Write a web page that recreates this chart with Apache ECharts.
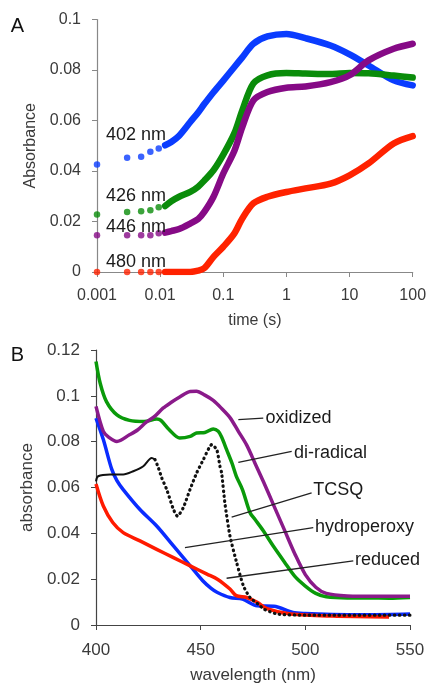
<!DOCTYPE html>
<html><head><meta charset="utf-8">
<script src="https://cdn.jsdelivr.net/npm/echarts@6/dist/echarts.min.js"></script>
<style>html,body{margin:0;padding:0;background:#fff}#c{width:430px;height:685px}</style>
</head><body><div id="c"></div>
<script>
// ---------- Panel A: kinetics (log time axis) ----------
const timeSparse = [0.001, 0.003, 0.005, 0.007, 0.0095];
const a402Sparse = [0.0426, 0.0452, 0.0456, 0.0476, 0.0489];
const a426Sparse = [0.0228, 0.0238, 0.0241, 0.0245, 0.0256];
const a446Sparse = [0.0146, 0.0146, 0.0146, 0.0146, 0.0153];
const a480Sparse = [0, 0, 0, 0, 0];
const timeDense = [0.012, 0.015, 0.02, 0.03, 0.04, 0.05, 0.07, 0.1, 0.15, 0.2, 0.3, 0.5, 1, 2, 5, 10, 20, 50, 100];
const a402 = [0.0502, 0.0515, 0.054, 0.0594, 0.0632, 0.0665, 0.0712, 0.0758, 0.0812, 0.085, 0.0904, 0.0933, 0.0943, 0.0926, 0.0897, 0.0862, 0.0818, 0.0759, 0.0739];
const a426 = [0.0261, 0.028, 0.0298, 0.0317, 0.0338, 0.0362, 0.0403, 0.0465, 0.055, 0.064, 0.0747, 0.0779, 0.0788, 0.0786, 0.0784, 0.0788, 0.0787, 0.0778, 0.077];
const a446 = [0.0156, 0.0162, 0.017, 0.0192, 0.021, 0.0238, 0.0298, 0.039, 0.048, 0.0574, 0.068, 0.0713, 0.073, 0.0735, 0.0752, 0.0779, 0.0838, 0.0884, 0.0904];
const a480 = [0, 0, 0, 0, 0.0005, 0.0015, 0.006, 0.01, 0.0153, 0.0212, 0.0272, 0.0298, 0.0317, 0.0331, 0.035, 0.0383, 0.043, 0.0509, 0.0538];
const xTicksA = ['0.001', '0.01', '0.1', '1', '10', '100'];
const yTicksA = ['0', '0.02', '0.04', '0.06', '0.08', '0.1'];
const seriesNamesA = ['402 nm', '426 nm', '446 nm', '480 nm'];
// label anchor values (time, absorbance)
const labelTimeA = [0.00139, 0.00139, 0.00139, 0.00139];
const labelValA = [0.0542, 0.0302, 0.0178, 0.0038];

// ---------- Panel B: spectra ----------
const wlDiradical = [400, 402, 405, 410, 416, 423, 429, 431, 435, 440, 445, 448, 452, 456, 458.4, 460, 462.4, 465, 467, 470, 473.6, 476, 480, 485, 490, 495, 500, 505, 510, 520, 530, 540, 550];
const diradical = [0.115, 0.1055, 0.0975, 0.0917, 0.0893, 0.0888, 0.0899, 0.0893, 0.0852, 0.0816, 0.0823, 0.0838, 0.084, 0.0855, 0.0845, 0.082, 0.0765, 0.0705, 0.065, 0.059, 0.049, 0.046, 0.041, 0.034, 0.0275, 0.0212, 0.017, 0.0138, 0.0123, 0.0118, 0.0118, 0.0117, 0.012];
const wlOxidized = [400, 403.5, 406, 410, 416, 420, 424, 428, 432, 436, 440, 445, 448, 452, 456, 460, 464, 468, 472, 476, 480, 485, 490, 495, 500, 505, 510, 520, 535, 550];
const oxidized = [0.0954, 0.0845, 0.082, 0.0801, 0.083, 0.0852, 0.0885, 0.091, 0.0946, 0.0972, 0.0995, 0.1019, 0.102, 0.1003, 0.098, 0.0945, 0.0905, 0.0845, 0.0785, 0.0705, 0.0625, 0.052, 0.0415, 0.031, 0.022, 0.0165, 0.0138, 0.0127, 0.0125, 0.0125];
const wlHydroperoxy = [400, 403.5, 407.5, 410, 413, 421, 429, 437, 445, 451, 455, 458, 464, 470, 477, 485, 494, 500, 513, 530, 550];
const hydroperoxy = [0.0903, 0.0809, 0.068, 0.063, 0.0591, 0.0504, 0.0432, 0.0345, 0.0258, 0.0193, 0.016, 0.0142, 0.012, 0.0113, 0.0084, 0.0082, 0.0055, 0.005, 0.0046, 0.0045, 0.0048];
const wlReduced = [400, 403.5, 408, 413, 421, 429, 437, 445, 453, 458, 464, 467, 472, 477, 482, 493, 513, 540];
const reduced = [0.0615, 0.0519, 0.0447, 0.0403, 0.0367, 0.033, 0.0294, 0.0258, 0.0222, 0.02, 0.0157, 0.0128, 0.012, 0.0099, 0.007, 0.0048, 0.0039, 0.0035];
const wlTcsqSolid = [400, 401, 406.7, 413, 417.8, 422.6, 426.6, 428.2];
const tcsqSolid = [0.0627, 0.0649, 0.0657, 0.0657, 0.0671, 0.0693, 0.0729, 0.0722];
const wlTcsqDotted = [428.2, 429.8, 431.4, 433.8, 437, 438.9, 441.7, 444.9, 448.1, 451.3, 455.3, 457.7, 459.2, 460, 461.6, 464, 467.2, 470.4, 473.6, 478.4, 480, 486.5, 500, 550];
const tcsqDotted = [0.0722, 0.0686, 0.0642, 0.0591, 0.0504, 0.0475, 0.0512, 0.0591, 0.0664, 0.0722, 0.0787, 0.0765, 0.0693, 0.0664, 0.053, 0.0388, 0.0272, 0.0171, 0.012, 0.0084, 0.007, 0.0048, 0.0043, 0.0043];
const xTicksB = ['400', '450', '500', '550'];
const yTicksB = ['0', '0.02', '0.04', '0.06', '0.08', '0.1', '0.12'];
const labelsB = ['oxidized', 'di-radical', 'TCSQ', 'hydroperoxy', 'reduced'];
// leader line start/end and text anchor in data coords (wavelength, absorbance)
const leaderStartWl = [468.0, 468.0, 464.8, 442.5, 462.4];
const leaderStartVal = [0.0896, 0.0710, 0.0471, 0.0338, 0.0204];
const leaderEndWl = [479.9, 493.5, 503.0, 503.8, 522.9];
const leaderEndVal = [0.0903, 0.0758, 0.0577, 0.0425, 0.0280];
const textWl = [481.0, 494.6, 503.8, 504.6, 523.7];
const textVal = [0.0904, 0.0749, 0.0590, 0.0427, 0.0283];

const zip = (xs, ys) => xs.map((x, i) => [x, ys[i]]);

const colA = { blue: '#0a3cff', green: '#0a8c0a', purple: '#860a86', red: '#ff2200' };
const colB = { blue: '#0a2cff', green: '#0a9a0a', purple: '#8a1a8a', red: '#ff1a00', black: '#111' };
const FONT = 'Liberation Sans, Arial, sans-serif';
const axisTxt = '#3a3a3a';

const chart = echarts.init(document.getElementById('c'), null, { renderer: 'canvas' });

function denseLine(name, data, color) {
  return { type: 'line', name, xAxisIndex: 0, yAxisIndex: 0, data, showSymbol: false, symbol: 'none',
    lineStyle: { color, width: 6.5, cap: 'round', join: 'round' }, smooth: 0.3, animation: false };
}
function sparse(name, data, color) {
  return { type: 'scatter', name, xAxisIndex: 0, yAxisIndex: 0, data, symbolSize: 6.5,
    itemStyle: { color }, animation: false };
}
function specLine(name, data, color, extra) {
  return Object.assign({ type: 'line', name, xAxisIndex: 1, yAxisIndex: 1, data, showSymbol: false, symbol: 'none',
    lineStyle: { color, width: 3.5, join: 'round' }, smooth: 0.3, animation: false }, extra || {});
}

chart.setOption({
  backgroundColor: '#fff',
  animation: false,
  grid: [
    { left: 97, top: 19.5, width: 315.7, height: 252.5 },
    { left: 96, top: 350, width: 314, height: 276 }
  ],
  xAxis: [
    { type: 'log', logBase: 10, gridIndex: 0, min: 0.001, max: 100,
      name: 'time (s)', nameLocation: 'middle', nameGap: 41,
      nameTextStyle: { fontFamily: FONT, fontSize: 16, color: axisTxt },
      axisLine: { lineStyle: { color: '#888', width: 1.2 } },
      axisTick: { show: true, inside: false, length: 5, lineStyle: { color: '#888' } },
      minorTick: { show: false }, splitLine: { show: false },
      axisLabel: { margin: 16, fontFamily: FONT, fontSize: 16, color: axisTxt,
        formatter: v => xTicksA[Math.round(Math.log10(v)) + 3] } },
    { type: 'value', gridIndex: 1, min: 400, max: 550, interval: 50,
      name: 'wavelength (nm)', nameLocation: 'middle', nameGap: 42,
      nameTextStyle: { fontFamily: FONT, fontSize: 17, color: axisTxt },
      axisLine: { lineStyle: { color: '#444', width: 1.2 } },
      axisTick: { show: true, inside: false, length: 5, lineStyle: { color: '#444' } },
      splitLine: { show: false },
      axisLabel: { margin: 17, fontFamily: FONT, fontSize: 17, color: axisTxt,
        formatter: v => xTicksB[Math.round((v - 400) / 50)] } }
  ],
  yAxis: [
    { type: 'value', gridIndex: 0, min: 0, max: 0.1, interval: 0.02,
      name: 'Absorbance', nameLocation: 'middle', nameGap: 54, nameRotate: 90,
      nameTextStyle: { fontFamily: FONT, fontSize: 16, color: axisTxt },
      axisLine: { show: true, lineStyle: { color: '#888', width: 1.2 } },
      axisTick: { show: true, inside: false, length: 5, lineStyle: { color: '#888' } },
      splitLine: { show: false },
      axisLabel: { margin: 16, fontFamily: FONT, fontSize: 16, color: axisTxt,
        formatter: v => yTicksA[Math.round(v / 0.02)] } },
    { type: 'value', gridIndex: 1, min: 0, max: 0.12, interval: 0.02,
      name: 'absorbance', nameLocation: 'middle', nameGap: 53, nameRotate: 90,
      nameTextStyle: { fontFamily: FONT, fontSize: 17, color: axisTxt },
      axisLine: { show: true, lineStyle: { color: '#444', width: 1.2 } },
      axisTick: { show: true, inside: false, length: 5, lineStyle: { color: '#444' } },
      splitLine: { show: false },
      axisLabel: { margin: 16, fontFamily: FONT, fontSize: 17, color: axisTxt,
        formatter: v => yTicksB[Math.round(v / 0.02)] } }
  ],
  series: [
    denseLine(seriesNamesA[0], zip(timeDense, a402), colA.blue),
    sparse(seriesNamesA[0], zip(timeSparse, a402Sparse), colA.blue),
    denseLine(seriesNamesA[1], zip(timeDense, a426), colA.green),
    sparse(seriesNamesA[1], zip(timeSparse, a426Sparse), colA.green),
    denseLine(seriesNamesA[2], zip(timeDense, a446), colA.purple),
    sparse(seriesNamesA[2], zip(timeSparse, a446Sparse), colA.purple),
    denseLine(seriesNamesA[3], zip(timeDense, a480), colA.red),
    sparse(seriesNamesA[3], zip(timeSparse, a480Sparse), colA.red),

    specLine('hydroperoxy', zip(wlHydroperoxy, hydroperoxy), colB.blue),
    specLine('reduced', zip(wlReduced, reduced), colB.red),
    specLine('di-radical', zip(wlDiradical, diradical), colB.green),
    specLine('oxidized', zip(wlOxidized, oxidized), colB.purple),
    specLine('TCSQ', zip(wlTcsqSolid, tcsqSolid), colB.black, { lineStyle: { color: colB.black, width: 2 } }),
    specLine('TCSQ dotted', zip(wlTcsqDotted, tcsqDotted), colB.black,
      { smooth: 0.2, lineStyle: { color: colB.black, width: 3.2, type: [0.5, 4.5], cap: 'round' } })
  ]
});

// annotations
const g = [];
g.push({ type: 'text', style: { text: 'A', x: 17.5, y: 26.5, font: '20px ' + FONT, fill: '#111', textAlign: 'center', textVerticalAlign: 'middle', verticalAlign: 'middle' } });
g.push({ type: 'text', style: { text: 'B', x: 17.5, y: 355, font: '20px ' + FONT, fill: '#111', textAlign: 'center', textVerticalAlign: 'middle', verticalAlign: 'middle' } });
seriesNamesA.forEach((n, i) => {
  const p = chart.convertToPixel({ gridIndex: 0 }, [labelTimeA[i], labelValA[i]]);
  g.push({ type: 'text', z: 100, style: { text: n, x: p[0], y: p[1], font: '18px ' + FONT, fill: '#1a1a1a', textAlign: 'left', textVerticalAlign: 'middle', verticalAlign: 'middle' } });
});
labelsB.forEach((n, i) => {
  const s = chart.convertToPixel({ gridIndex: 1 }, [leaderStartWl[i], leaderStartVal[i]]);
  const e = chart.convertToPixel({ gridIndex: 1 }, [leaderEndWl[i], leaderEndVal[i]]);
  const t = chart.convertToPixel({ gridIndex: 1 }, [textWl[i], textVal[i]]);
  g.push({ type: 'line', z: 100, shape: { x1: s[0], y1: s[1], x2: e[0], y2: e[1] }, style: { stroke: '#222', lineWidth: 1.3 } });
  g.push({ type: 'text', z: 100, style: { text: n, x: t[0], y: t[1], font: '18px ' + FONT, fill: '#1a1a1a', textAlign: 'left', textVerticalAlign: 'middle', verticalAlign: 'middle' } });
});
chart.setOption({ graphic: g });
</script>
</body></html>
